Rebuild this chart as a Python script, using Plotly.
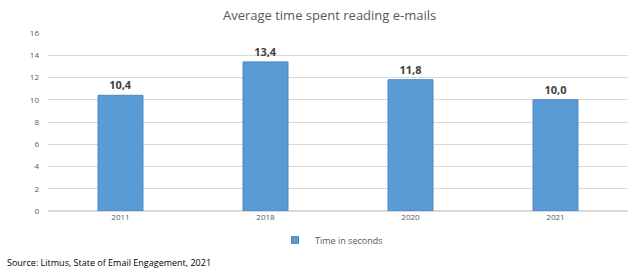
import plotly.graph_objects as go

categories = ["2011", "2018", "2020", "2021"]
values = [10.4, 13.4, 11.8, 10.0]
labels = ["10,4", "13,4", "11,8", "10,0"]
series_name = "Time in seconds"
title_text = "Average time spent reading e-mails"
source_text = "Source: Litmus, State of Email Engagement, 2021"
bar_color = "#5B9BD5"

fig = go.Figure()
fig.add_trace(go.Bar(
    x=categories, y=values, name=series_name, showlegend=False,
    text=labels, textposition="outside",
    textfont=dict(family="Open Sans, Liberation Sans, sans-serif", size=11, color="#404040", weight="bold"),
    marker=dict(color=bar_color, line=dict(color="#4A86C0", width=1)),
    width=0.31, cliponaxis=False,
))
# legend entry with a small square symbol, like the original
fig.add_trace(go.Scatter(
    x=[None], y=[None], mode="markers", name=series_name,
    marker=dict(symbol="square", size=7, color=bar_color, line=dict(color="#4A86C0", width=1)),
))

fig.update_layout(
    width=640, height=272,
    margin=dict(l=48, r=12, t=33, b=61, autoexpand=False),
    paper_bgcolor="white", plot_bgcolor="white",
    font=dict(family="Open Sans, Liberation Sans, sans-serif", color="#595959"),
    title=dict(text=title_text, x=0.515, xanchor="center", y=0.945, yanchor="middle",
               font=dict(size=13, color="#595959")),
    xaxis=dict(showgrid=False, showline=False, ticks="", tickfont=dict(size=8, color="#595959")),
    yaxis=dict(range=[0, 16], dtick=2, showgrid=True, gridcolor="#D9D9D9", gridwidth=1,
               zeroline=True, zerolinecolor="#D9D9D9", tickfont=dict(size=8, color="#595959"),
               ticks="", ticklabelstandoff=8),
    showlegend=True,
    legend=dict(orientation="h", xref="container", x=0.518, xanchor="center",
                yref="container", y=1 - 240 / 272, yanchor="middle",
                font=dict(size=9, color="#595959"), itemwidth=30),
    bargap=0.69,
)
fig.add_annotation(text=source_text, xref="paper", yref="paper", x=-43 / 580, xanchor="left",
                   y=-51 / 178, yanchor="middle", showarrow=False,
                   font=dict(size=9, color="#000000"))
fig.write_html("out.html")
